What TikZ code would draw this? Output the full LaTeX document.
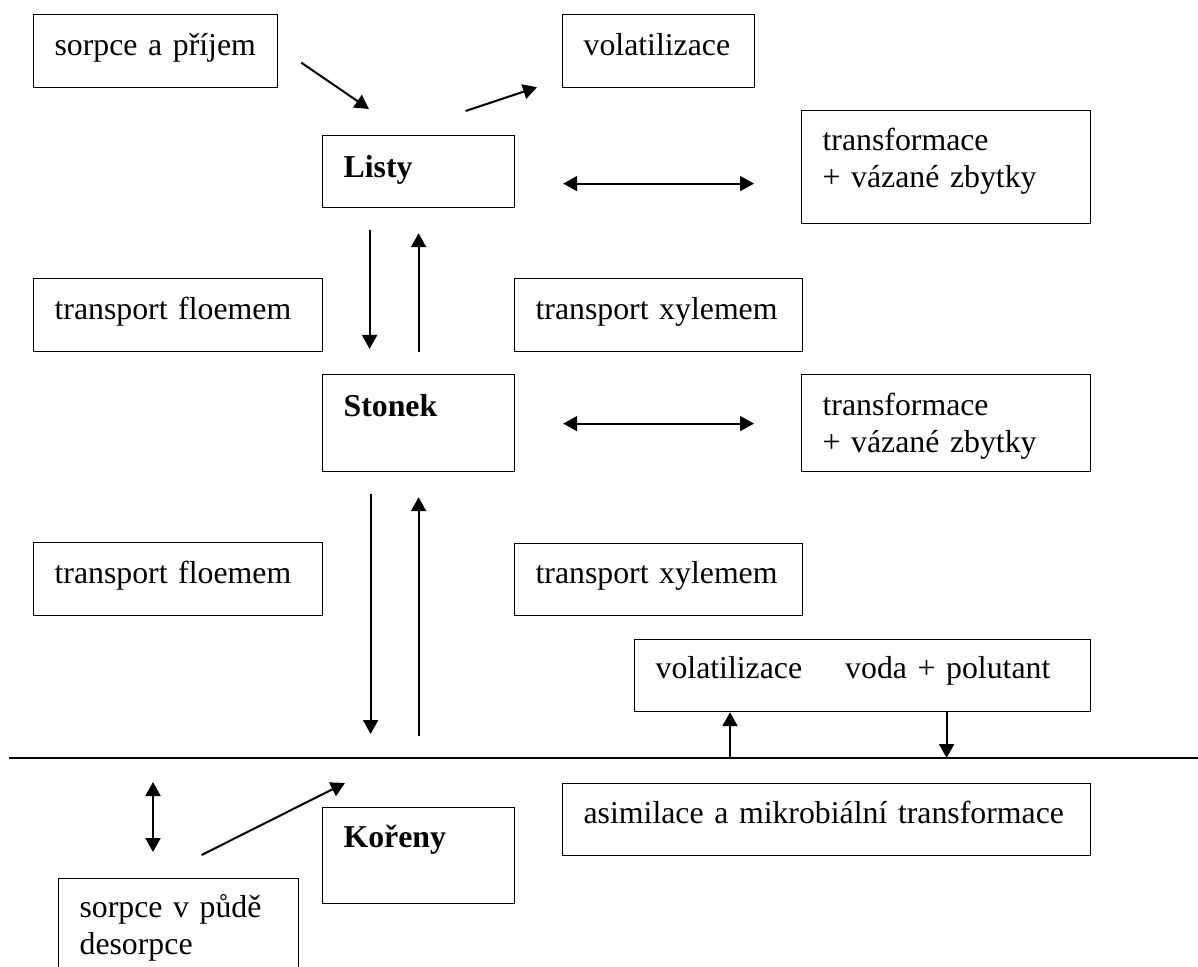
\documentclass[tikz,border=0pt]{standalone}
\usepackage{fontspec}
\setmainfont{Liberation Serif}
\usetikzlibrary{arrows.meta}
\hyphenpenalty=10000

\begin{document}
\begin{tikzpicture}[
    x=0.5pt, y=-0.5pt,
    box/.style={draw, line width=0.6pt, anchor=north west, inner xsep=10.5pt, inner ysep=0pt,
        align=left, font=\fontsize{15.9}{18.6}\selectfont},
    wide/.style={text width=123.5pt},
    narrow/.style={text width=75pt},
    oneline/.style={text height=20.5pt, text depth=16pt},
    flow/.style={-{Triangle[length=7pt, width=7.5pt]}, line width=1pt},
    twoway/.style={{Triangle[length=7pt, width=7.5pt]}-{Triangle[length=7pt, width=7.5pt]}, line width=1pt}
  ]
  \useasboundingbox (0,0) rectangle (1198,967);
  \clip (0,0) rectangle (1198,967);

  % boxes
  \node[box, text width=101pt, oneline] (sorb) at (33,14) {sorpce a příjem};
  \node[box, narrow, oneline] (volt) at (562,14) {volatilizace};
  \node[box, narrow, text height=21pt, text depth=15pt] (listy) at (322,135) {\textbf{Listy}};
  \node[box, wide, text height=20pt, text depth=36.5pt] (trans1) at (801,110) {transformace\\+ vázané zbytky};
  \node[box, wide, oneline] (floem1) at (33,278) {transport floemem};
  \node[box, text width=123pt, oneline] (xyl1) at (514,278) {transport xylemem};
  \node[box, narrow, text height=21pt, text depth=27.5pt] (stonek) at (322,374) {\textbf{Stonek}};
  \node[box, wide, text height=20.5pt, text depth=28pt] (trans2) at (801,374) {transformace\\+ vázané zbytky};
  \node[box, wide, oneline] (floem2) at (33,542) {transport floemem};
  \node[box, text width=123pt, text height=20pt, text depth=16pt] (xyl2) at (514,543) {transport xylemem};
  \node[box, text width=207pt, text height=19.5pt, text depth=16.5pt] (volvoda) at (634,639) {volatilizace\hspace{21.5pt}voda + polutant};
  \node[box, text width=243pt, text height=20pt, text depth=16pt] (asim) at (562,783) {asimilace a mikrobiální transformace};
  \node[box, narrow, text height=20pt, text depth=28pt] (koreny) at (322,807) {\textbf{Kořeny}};
  \node[box, text width=99pt, text height=19.5pt, text depth=45pt] (pudy) at (58,878) {sorpce v půdě\\desorpce};

  % leaves
  \draw[flow] ([shift={(23,11.5)}]sorb.east) -- ([shift={(47,-26)}]listy.north west);
  \draw[flow] ([shift={(47,-24)}]listy.north) -- ([shift={(-25,-1)}]volt.south west);
  \draw[twoway] ([shift={(48,12)}]listy.east) -- ([shift={(-47,16.5)}]trans1.west);
  \draw[flow] ([shift={(-49,22)}]listy.south) -- ([shift={(-49,-25)}]stonek.north);
  \draw[flow] ([shift={(0,-22)}]stonek.north) -- ([shift={(0,25)}]listy.south);

  % stem
  \draw[twoway] ([shift={(48,0.5)}]stonek.east) -- ([shift={(-47,0.5)}]trans2.west);
  \draw[flow] ([shift={(-48,22)}]stonek.south) -- ([shift={(-48,-73)}]koreny.north);
  \draw[flow] ([shift={(0,-71)}]koreny.north) -- ([shift={(0,25)}]stonek.south);

  % soil surface
  \coordinate (gl) at (9,758);
  \coordinate (gr) at (1198,758);
  \draw[line width=0.6pt] (gl) -- (gr);
  \coordinate (vup) at ([shift={(96,0)}]volvoda.south west);
  \coordinate (vdn) at ([shift={(84,0)}]volvoda.south);
  \draw[flow] (vup |- gl) -- (vup);
  \draw[flow] (vdn) -- (vdn |- gl);

  % roots
  \draw[twoway] ([shift={(95,-96)}]pudy.north west) -- ([shift={(95,-26)}]pudy.north west);
  \draw[flow] ([shift={(23,-23)}]pudy.north) -- ([shift={(23,-24)}]koreny.north west);
\end{tikzpicture}
\end{document}
